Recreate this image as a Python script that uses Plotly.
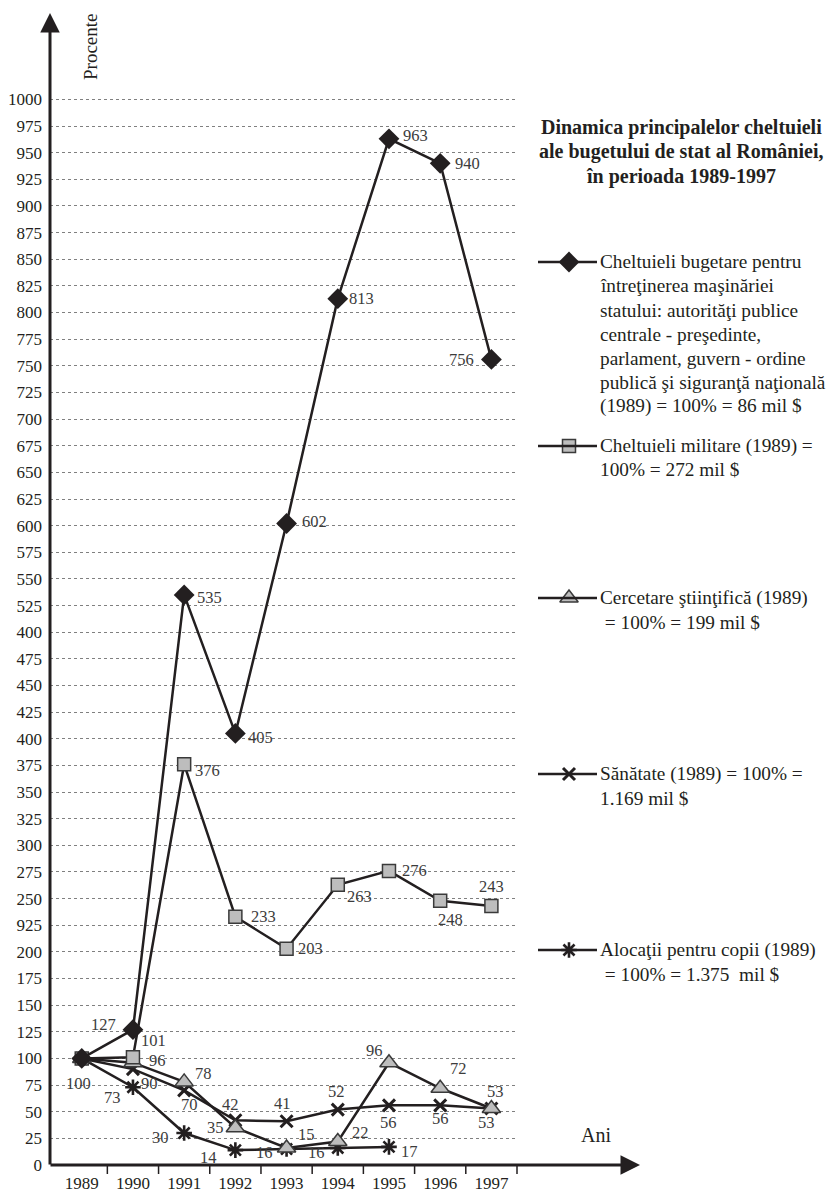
import plotly.graph_objects as go

# ---------------- data ----------------
years = ["1989", "1990", "1991", "1992", "1993", "1994", "1995", "1996", "1997"]
aparat_stat = [100, 127, 535, 405, 602, 813, 963, 940, 756]
militare = [100, 101, 376, 233, 203, 263, 276, 248, 243]
cercetare = [100, 96, 78, 35, 16, 22, 96, 72, 53]
sanatate = [100, 90, 70, 42, 41, 52, 56, 56, 53]
alocatii = [100, 73, 30, 14, 15, 16, 17]

y_tick_values = list(range(0, 1001, 25))
y_tick_labels = ["0", "25", "50", "75", "100", "125", "150", "175", "200", "925",
                 "250", "275", "300", "325", "350", "375", "400", "425", "450", "475",
                 "400", "525", "550", "575", "600", "625", "650", "675", "700", "725",
                 "750", "775", "800", "825", "850", "875", "900", "925", "950", "975",
                 "1000"]

title_lines = ["Dinamica principalelor cheltuieli",
               "ale bugetului de stat al României,",
               "în perioada 1989-1997"]
legend_texts = [
    ["Cheltuieli bugetare pentru", "întreţinerea maşinăriei", "statului: autorităţi publice",
     "centrale - preşedinte,", "parlament, guvern - ordine", "publică şi siguranţă naţională",
     "(1989) = 100% = 86 mil $"],
    ["Cheltuieli militare (1989) =", "100% = 272 mil $"],
    ["Cercetare ştiinţifică (1989)", " = 100% = 199 mil $"],
    ["Sănătate (1989) = 100% =", "1.169 mil $"],
    ["Alocaţii pentru copii (1989)", " = 100% = 1.375  mil $"],
]

# ---------------- geometry (page pixels) ----------------
BODY = 8
W, H = 829, 1189
PX_L, PX_R = 50, 517       # plot area in page px
PX_T, PX_B = 60, 1165
XMIN, XMAX = -0.62, 8.5
YMAX = (PX_B - PX_T) / (26.64 / 25)


def fx(xp):
    return (xp - BODY) / W


def fy(yp):
    return 1 - (yp - BODY) / H


def xdata_to_page(v):
    return PX_L + (v - XMIN) / (XMAX - XMIN) * (PX_R - PX_L)


INK = "#231f20"
GREY = "#bdbdbd"
FONT = "Liberation Serif, Times New Roman, serif"

# per-series style + label offsets (dx, dy in px, dy positive = down)
series = [
    dict(y=alocatii, symbol="asterisk-open", size=13, color=INK, lw=2.6,
         offs=[None, (-20, 10), (-24, 4), (-27, 7), (20, -15), (-21, 5), (21, 5)]),
    dict(y=sanatate, symbol="x-thin-open", size=12, color=INK, lw=3,
         offs=[None, (17, 14), (5, 14), (-5, -16), (-4, -18), (-1, -18), (0, 17), (0, 13), (4, -17)]),
    dict(y=cercetare, symbol="triangle-up", size=16, color=GREY, lw=1.5,
         offs=[(-3, 25), (25, -2), (19, -8), (-20, 0), (-22, 5), (23, -9), (-14, -12), (18, -20), (-5, 14)]),
    dict(y=militare, symbol="square", size=13, color=GREY, lw=1.5,
         offs=[None, (21, -17), (23, 6), (28, 0), (24, 0), (22, 12), (26, 0), (10, 19), (0, -20)]),
    dict(y=aparat_stat, symbol="diamond", size=16, color=INK, lw=0,
         offs=[None, (-29, -5), (25, 3), (25, 4), (28, -2), (24, 0), (27, -3), (27, 0), (-30, 0)]),
]

fig = go.Figure()
annotations = []
shapes = []

for s in series:
    xs = list(range(len(s["y"])))
    open_sym = s["symbol"].endswith("open")
    fig.add_trace(go.Scatter(
        x=xs, y=s["y"], mode="lines+markers", showlegend=False,
        line=dict(color=INK, width=2.5),
        marker=dict(symbol=s["symbol"], size=s["size"], color=s["color"],
                    line=dict(color=INK if open_sym else "#3a3a3a", width=s["lw"])),
        cliponaxis=False,
    ))
    for i, v in enumerate(s["y"]):
        o = s["offs"][i]
        if o is None:
            continue
        annotations.append(dict(x=i, y=v, xref="x", yref="y", text=str(v), showarrow=False,
                                xanchor="center", yanchor="middle",
                                xshift=o[0], yshift=-o[1],
                                font=dict(family=FONT, size=16.5, color="#3c3c3c")))

# axis arrows
annotations.append(dict(x=fx(PX_L), y=fy(13), xref="paper", yref="paper", text="",
                        showarrow=True, ax=0, ay=PX_B + 1 - 13, axref="pixel", ayref="pixel",
                        arrowhead=2, arrowsize=1.3, arrowwidth=3, arrowcolor=INK, standoff=0))
annotations.append(dict(x=fx(640), y=fy(PX_B), xref="paper", yref="paper", text="",
                        showarrow=True, ax=PX_L - 1 - 640, ay=0, axref="pixel", ayref="pixel",
                        arrowhead=2, arrowsize=1.3, arrowwidth=3, arrowcolor=INK, standoff=0))

# x tick marks between years
for i in range(len(years)):
    xp = fx(xdata_to_page(i + 0.5))
    shapes.append(dict(type="line", xref="paper", yref="paper", x0=xp, x1=xp,
                       y0=fy(PX_B), y1=fy(PX_B + 9), line=dict(color=INK, width=1.5)))

# axis titles
annotations.append(dict(x=fx(91), y=fy(47), xref="paper", yref="paper", text="Procente",
                        textangle=-90, showarrow=False, xanchor="center", yanchor="middle",
                        font=dict(family=FONT, size=19, color=INK)))
annotations.append(dict(x=fx(596), y=fy(1135), xref="paper", yref="paper", text="Ani",
                        showarrow=False, xanchor="center", yanchor="middle",
                        font=dict(family=FONT, size=20, color=INK)))

# title
for k, t in enumerate(title_lines):
    annotations.append(dict(x=fx(681), y=fy(127 + 24.5 * k), xref="paper", yref="paper",
                            text="<b>" + t + "</b>", showarrow=False, xanchor="center",
                            yanchor="middle",
                            font=dict(family=FONT, size=20, color=INK)))

# manual legend
legend_y = [262, 446, 598, 774, 950]
LINE_H = 24
MK_X = 569
for ly, lines in zip(legend_y, legend_texts):
    shapes.append(dict(type="line", xref="paper", yref="paper", x0=fx(538), x1=fx(597),
                       y0=fy(ly), y1=fy(ly), line=dict(color=INK, width=2.5)))
    for k, t in enumerate(lines):
        annotations.append(dict(x=fx(598), y=fy(ly + LINE_H * k), xref="paper", yref="paper",
                                text=t, showarrow=False, xanchor="left", yanchor="middle",
                                font=dict(family=FONT, size=19.3, color=INK)))

# legend markers on a full-figure axis pair measured in page pixels
for s, ly in zip(series[::-1], legend_y):
    open_sym = s["symbol"].endswith("open")
    fig.add_trace(go.Scatter(
        x=[MK_X], y=[ly], xaxis="x2", yaxis="y2", mode="markers", showlegend=False,
        marker=dict(symbol=s["symbol"], size=s["size"], color=s["color"],
                    line=dict(color=INK if open_sym else "#3a3a3a", width=s["lw"])),
        cliponaxis=False, hoverinfo="skip"))

fig.update_layout(
    width=W, height=H, autosize=False,
    margin=dict(l=0, r=0, t=0, b=0, pad=0),
    paper_bgcolor="white", plot_bgcolor="rgba(0,0,0,0)",
    annotations=annotations, shapes=shapes,
    xaxis=dict(domain=[fx(PX_L), fx(PX_R)], range=[XMIN, XMAX],
               tickvals=list(range(len(years))), ticktext=years,
               showgrid=False, zeroline=False, showline=False, ticks="",
               ticklabelstandoff=6, automargin=False,
               tickfont=dict(family=FONT, size=17, color=INK)),
    yaxis=dict(domain=[fy(PX_B), fy(PX_T)], range=[0, YMAX],
               tickvals=y_tick_values, ticktext=y_tick_labels,
               showgrid=True, gridcolor="#808080", griddash="dot", gridwidth=1,
               zeroline=False, showline=False, ticks="", ticklabelstandoff=7,
               automargin=False,
               tickfont=dict(family=FONT, size=17, color=INK)),
    xaxis2=dict(domain=[0, 1], anchor="y2", range=[BODY, BODY + W], visible=False,
                showgrid=False, zeroline=False),
    yaxis2=dict(domain=[0, 1], anchor="x2", range=[BODY + H, BODY], visible=False,
                showgrid=False, zeroline=False),
)

fig.write_html("out.html")
